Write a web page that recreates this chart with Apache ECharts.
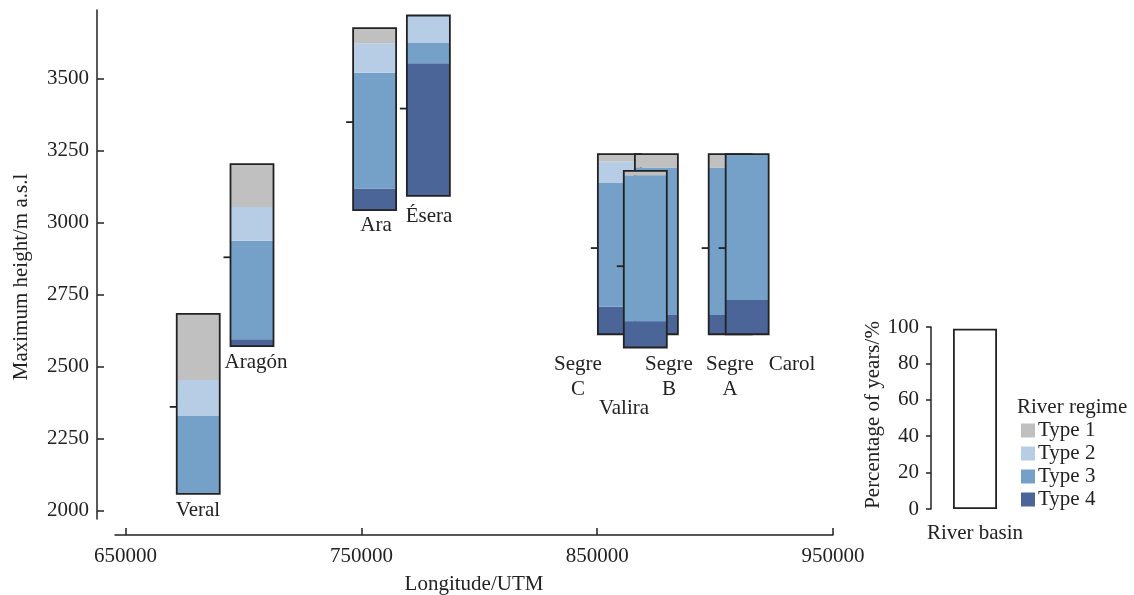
<!DOCTYPE html>
<html>
<head>
<meta charset="utf-8">
<style>
  html, body { margin: 0; padding: 0; background: #fff; }
  #main { width: 1134px; height: 595px; }
</style>
<script src="https://cdn.jsdelivr.net/npm/echarts@6/dist/echarts.min.js"></script>
</head>
<body>
<div id="main"></div>
<script>
// basins, drawn in this order (later ones lie on top)
var basins = ['Veral', 'Aragón', 'Ara', 'Ésera', 'Segre C', 'Segre B', 'Valira', 'Segre A', 'Carol'];
var longitude = [680800, 703600, 755600, 778400, 859400, 875100, 870400, 906400, 913600];
var minHeight = [2059, 2572, 3044, 3093, 2613, 2613, 2567, 2613, 2613];
var maxHeight = [2684, 3203, 3675, 3719, 3238, 3238, 3180, 3238, 3238];
var meanHeight = [2361, 2880, 3349, 3396, 2912, 2880, 2849, 2912, 2912];
// percentage of years in each river regime
var type1 = [36.7, 23.6, 8.3, 0, 4.1, 7.4, 2.7, 7.4, 0];
var type2 = [19.8, 18.5, 16.2, 15.3, 11.7, 0, 0, 0, 0];
var type3 = [43.5, 54.1, 63.6, 11.2, 68.9, 81.9, 82.6, 81.9, 81.0];
var type4 = [0, 3.8, 11.9, 73.5, 15.3, 10.7, 14.7, 10.7, 19.0];
var legendScale = ['River basin'];
var legendScaleValue = [99];

var xTicks = [650000, 750000, 850000, 950000];
var yTicks = [2000, 2250, 2500, 2750, 3000, 3250, 3500];

var typeNames = ['Type 1', 'Type 2', 'Type 3', 'Type 4'];
var typeColors = ['#c0c0c0', '#b7cde6', '#75a0c8', '#4c6598'];

var FONT = 'Liberation Serif';
var FS = 21;
var INK = '#222';

var rows = basins.map(function (b, i) {
  return [longitude[i], minHeight[i], maxHeight[i], meanHeight[i], type1[i], type2[i], type3[i], type4[i]];
});

function renderBasin(params, api) {
  var x = api.value(0);
  var lo = api.value(1);
  var hi = api.value(2);
  var mean = api.value(3);
  var pct = [api.value(7), api.value(6), api.value(5), api.value(4)]; // bottom -> top
  var cols = [typeColors[3], typeColors[2], typeColors[1], typeColors[0]];
  var w = 43;
  var pBottom = api.coord([x, lo]);
  var pTop = api.coord([x, hi]);
  var left = pBottom[0] - w / 2;
  var children = [];
  var cum = 0;
  for (var k = 0; k < 4; k++) {
    if (pct[k] <= 0) continue;
    var y0 = api.coord([x, lo + (hi - lo) * cum / 100])[1];
    cum += pct[k];
    var y1 = api.coord([x, lo + (hi - lo) * cum / 100])[1];
    children.push({
      type: 'rect',
      shape: { x: left, y: y1, width: w, height: y0 - y1 },
      style: { fill: cols[k] }
    });
  }
  children.push({
    type: 'rect',
    shape: { x: left, y: pTop[1], width: w, height: pBottom[1] - pTop[1] },
    style: { fill: null, stroke: INK, lineWidth: 1.8 }
  });
  var ym = api.coord([x, mean])[1];
  children.push({
    type: 'line',
    shape: { x1: left - 7, y1: ym, x2: left, y2: ym },
    style: { stroke: INK, lineWidth: 1.8 }
  });
  return { type: 'group', children: children };
}

function label(text, x, y, rot) {
  return {
    type: 'text', x: x, y: y, rotation: rot || 0,
    style: { text: text, font: FS + 'px "' + FONT + '"', fill: INK, align: 'center', verticalAlign: 'middle', lineHeight: 25 }
  };
}

function plain(v) { return String(v); }

var chart = echarts.init(document.getElementById('main'));

var legendSeries = typeNames.map(function (n, i) {
  return {
    name: n, type: 'line', xAxisIndex: 1, yAxisIndex: 1, data: [],
    itemStyle: { color: typeColors[i] }, lineStyle: { color: typeColors[i] }
  };
});

var option = {
  backgroundColor: '#fff',
  animation: false,
  grid: [
    { left: 115, right: 301, top: 10, bottom: 76 },
    { left: 940, width: 70, top: 327, bottom: 86 }
  ],
  xAxis: [
    {
      type: 'value', gridIndex: 0, min: 645500, max: 950000, offset: 16,
      axisLine: { lineStyle: { color: INK, width: 1.5 } },
      axisTick: { inside: true, length: 7, customValues: xTicks, lineStyle: { color: INK, width: 1.5 } },
      axisLabel: { customValues: xTicks, formatter: plain, fontFamily: FONT, fontSize: FS, color: INK, margin: 11 },
      splitLine: { show: false }
    },
    {
      type: 'category', gridIndex: 1, data: legendScale,
      axisLine: { show: false }, axisTick: { show: false },
      axisLabel: { fontFamily: FONT, fontSize: FS, color: INK, margin: 14 }
    }
  ],
  yAxis: [
    {
      type: 'value', gridIndex: 0, min: 1972, max: 3738, offset: 18,
      axisLine: { show: true, lineStyle: { color: INK, width: 1.5 } },
      axisTick: { show: true, inside: true, length: 7, customValues: yTicks, lineStyle: { color: INK, width: 1.5 } },
      axisLabel: { customValues: yTicks, formatter: plain, fontFamily: FONT, fontSize: FS, color: INK, margin: 8 },
      splitLine: { show: false }
    },
    {
      type: 'value', gridIndex: 1, min: 0, max: 100, interval: 20, offset: 9,
      axisLine: { show: true, lineStyle: { color: INK, width: 1.5 } },
      axisTick: { show: true, length: 5, lineStyle: { color: INK, width: 1.5 } },
      axisLabel: { fontFamily: FONT, fontSize: FS, color: INK, margin: 12 },
      splitLine: { show: false }
    }
  ],
  legend: {
    data: typeNames, orient: 'vertical', left: 1021, top: 420, padding: 0,
    icon: 'rect', itemWidth: 14, itemHeight: 14, itemGap: 2, selectedMode: false,
    textStyle: { fontFamily: FONT, fontSize: FS, color: INK, padding: [0, 0, 0, -2] }
  },
  graphic: [
    label('Veral', 198, 510),
    label('Aragón', 256, 362),
    label('Ara', 376, 225),
    label('Ésera', 429, 216),
    label('Segre\nC', 578, 377),
    label('Valira', 624, 408),
    label('Segre\nB', 669, 377),
    label('Segre\nA', 730, 377),
    label('Carol', 792, 364),
    label('Longitude/UTM', 474, 584),
    label('Maximum height/m a.s.l', 21, 277, Math.PI / 2),
    label('Percentage of years/%', 873, 415, Math.PI / 2),
    {
      type: 'text', x: 1017, y: 407,
      style: { text: 'River regime', font: FS + 'px "' + FONT + '"', fill: INK, align: 'left', verticalAlign: 'middle' }
    }
  ],
  series: [
    {
      type: 'custom', xAxisIndex: 0, yAxisIndex: 0,
      renderItem: renderBasin,
      data: rows
    },
    {
      type: 'bar', xAxisIndex: 1, yAxisIndex: 1, barWidth: 44,
      data: legendScaleValue,
      itemStyle: { color: '#fff', borderColor: INK, borderWidth: 1.8 }
    }
  ].concat(legendSeries)
};

chart.setOption(option);
</script>
</body>
</html>
